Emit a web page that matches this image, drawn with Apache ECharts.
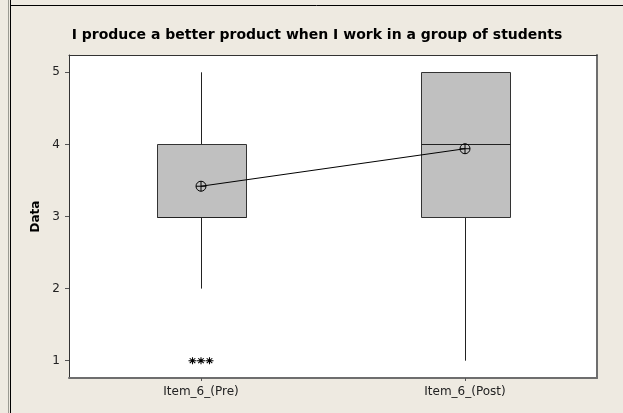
<!DOCTYPE html>
<html>
<head>
<meta charset="utf-8">
<script src="https://cdn.jsdelivr.net/npm/echarts@6/dist/echarts.min.js"></script>
<style>
html,body{margin:0;padding:0;background:#EEEAE1;}
#c{width:623px;height:413px;}
</style>
</head>
<body>
<div id="c"></div>
<script>
// ---- data ----
var titleText = 'I produce a better product when I work in a group of students';
var categories = ['Item_6_(Pre)', 'Item_6_(Post)'];
// [min whisker, Q1, median, Q3, max whisker]
var boxPre  = [2, 3, 3, 4, 5];
var boxPost = [1, 3, 4, 5, 5];
var means = [3.42, 3.94];
var outliersPre = [1, 1, 1];
var yTicks = [1, 2, 3, 4, 5];
var yMin = 0.76, yMax = 5.24;
var yName = 'Data';

var boxes = [boxPre, boxPost];
var boxData = boxes.map(function (b, i) { return [i].concat(b); });
var outlierOffsets = [-8.5, 0, 8.5];
var outlierData = outliersPre.map(function (v, k) {
  return { value: [0, v], symbolOffset: [outlierOffsets[k], 0] };
});

var FONT = 'DejaVu Sans';
var chart = echarts.init(document.getElementById('c'), null, { renderer: 'canvas' });

var option = {
  backgroundColor: '#EEEAE1',
  animation: false,
  title: {
    text: titleText,
    left: 312,
    top: 23,
    textAlign: 'center',
    textStyle: { fontFamily: FONT, fontSize: 14, fontWeight: 'bold', color: '#000' }
  },
  graphic: [
    { type: 'line', shape: { x1: 8.5, y1: 0, x2: 8.5, y2: 413 }, style: { stroke: '#9a9a92', lineWidth: 1 } },
    { type: 'line', shape: { x1: 10.5, y1: 0, x2: 10.5, y2: 413 }, style: { stroke: '#000', lineWidth: 1 } },
    { type: 'line', shape: { x1: 10, y1: 5.5, x2: 623, y2: 5.5 }, style: { stroke: '#000', lineWidth: 1 } }
  ],
  grid: { left: 69, right: 26, top: 55, bottom: 35, show: true, backgroundColor: '#fff', borderWidth: 0 },
  xAxis: [{
    type: 'category',
    data: categories,
    position: 'bottom',
    boundaryGap: true,
    axisLine: { show: true, lineStyle: { color: '#6e6e6e', width: 2 } },
    axisTick: { show: true, alignWithLabel: true, length: 3, lineStyle: { color: '#555' } },
    axisLabel: { margin: 8, fontFamily: FONT, fontSize: 12, color: '#222' },
    splitLine: { show: false }
  }, {
    type: 'category',
    data: categories,
    position: 'top',
    axisLine: { show: true, lineStyle: { color: '#333', width: 1 } },
    axisTick: { show: false },
    axisLabel: { show: false },
    splitLine: { show: false }
  }],
  yAxis: [{
    type: 'value',
    min: yMin,
    max: yMax,
    position: 'left',
    name: yName,
    nameLocation: 'middle',
    nameGap: 23,
    nameTextStyle: { fontFamily: FONT, fontSize: 12, fontWeight: 'bold', color: '#000' },
    axisLine: { show: true, lineStyle: { color: '#333', width: 1 } },
    axisTick: { show: true, length: 4, customValues: yTicks, lineStyle: { color: '#555' } },
    axisLabel: { margin: 9, customValues: yTicks, fontFamily: FONT, fontSize: 12, color: '#222' },
    splitLine: { show: false }
  }, {
    type: 'value',
    min: yMin,
    max: yMax,
    position: 'right',
    axisLine: { show: true, lineStyle: { color: '#6e6e6e', width: 2 } },
    axisTick: { show: false },
    axisLabel: { show: false },
    splitLine: { show: false }
  }],
  series: [{
    type: 'custom',
    xAxisIndex: 0,
    yAxisIndex: 0,
    data: boxData,
    renderItem: function (params, api) {
      var x = api.value(0);
      var lo = api.coord([x, api.value(1)]);
      var q1 = api.coord([x, api.value(2)]);
      var md = api.coord([x, api.value(3)]);
      var q3 = api.coord([x, api.value(4)]);
      var hi = api.coord([x, api.value(5)]);
      var bw = api.size([1, 0])[0] * 0.338;
      var cx = Math.round(lo[0]) + 0.5;
      var l = Math.round(cx - bw / 2) + 0.5, r = Math.round(cx + bw / 2) + 0.5;
      var yq1 = Math.round(q1[1]) + 0.5, yq3 = Math.round(q3[1]) + 0.5, ymd = Math.round(md[1]) + 0.5;
      var children = [];
      if (lo[1] !== q1[1]) children.push({ type: 'line', shape: { x1: cx, y1: lo[1], x2: cx, y2: yq1 }, style: { stroke: '#222', lineWidth: 1 } });
      if (hi[1] !== q3[1]) children.push({ type: 'line', shape: { x1: cx, y1: hi[1], x2: cx, y2: yq3 }, style: { stroke: '#222', lineWidth: 1 } });
      children.push({ type: 'rect', shape: { x: l, y: yq3, width: r - l, height: yq1 - yq3 }, style: { fill: '#C0C0C0', stroke: '#333', lineWidth: 1 } });
      children.push({ type: 'line', shape: { x1: l, y1: ymd, x2: r, y2: ymd }, style: { stroke: '#222', lineWidth: 1 } });
      return { type: 'group', children: children };
    },
    z: 2
  }, {
    type: 'line',
    xAxisIndex: 0,
    yAxisIndex: 0,
    data: means,
    symbol: 'path://M0,5A5,5,0,1,1,10,5A5,5,0,1,1,0,5ZM5,0L5,10M0,5L10,5',
    symbolSize: 10,
    showSymbol: true,
    lineStyle: { color: '#000', width: 1 },
    itemStyle: { color: 'rgba(0,0,0,0)', borderColor: '#000', borderWidth: 1 },
    z: 3
  }, {
    type: 'scatter',
    xAxisIndex: 0,
    yAxisIndex: 0,
    data: outlierData,
    symbol: 'path://M5,0L5,10M0,5L10,5M1.5,1.5L8.5,8.5M1.5,8.5L8.5,1.5',
    symbolSize: [8, 7],
    itemStyle: { color: 'rgba(0,0,0,0)', borderColor: '#000', borderWidth: 1, opacity: 1 },
    z: 3
  }]
};
chart.setOption(option);
</script>
</body>
</html>
